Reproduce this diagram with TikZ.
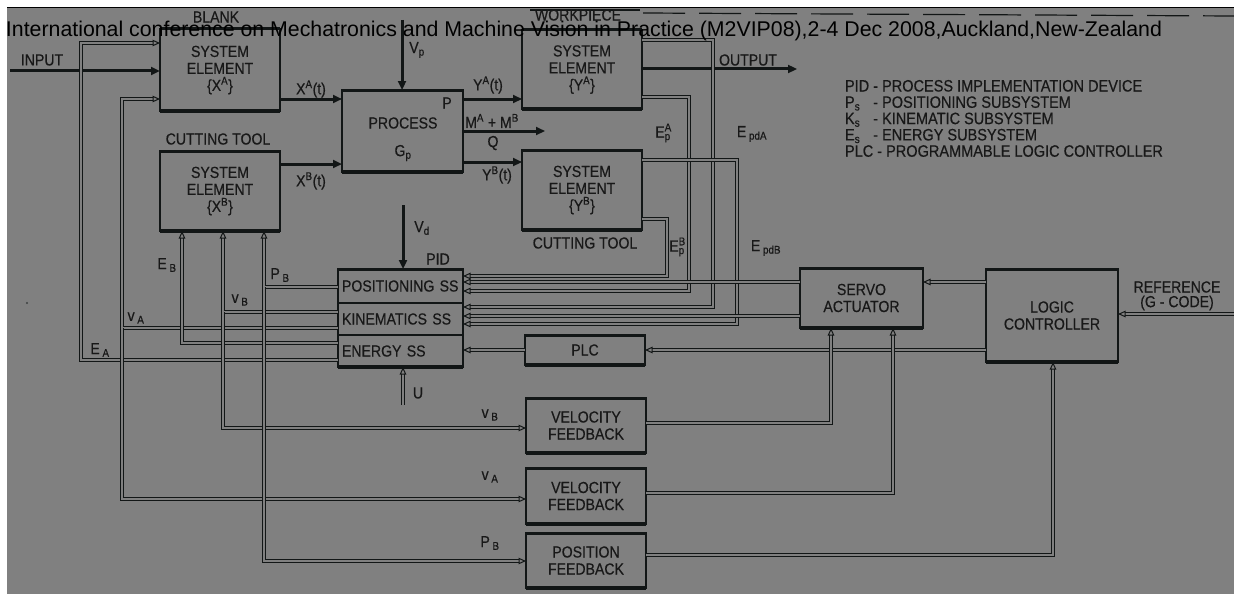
\documentclass[tikz,border=0pt]{standalone}
\usepackage{fontspec}
\usepackage{graphicx}
\setmainfont{Liberation Sans}
\newfontfamily\dfont[FakeStretch=0.88,FakeBold=0.4]{Liberation Sans}
\usetikzlibrary{arrows.meta}
\definecolor{bg}{RGB}{128,128,128}
\definecolor{ink}{RGB}{18,22,22}
\definecolor{txt}{RGB}{24,24,24}
\begin{document}
\begin{tikzpicture}[x=1pt,y=-1pt,
  every node/.style={font=\dfont\fontsize{16}{17}\selectfont, text=txt, inner sep=0pt, outer sep=0pt},
  box/.style={draw=ink, line width=1.4pt, fill=bg, align=center},
  thk/.style={draw=ink, line width=3pt, -{Triangle[length=9pt,width=8pt]}},
  sig/.style={draw=ink, line width=1pt, double=bg, double distance=1.8pt},
  sigA/.style={sig, -{Triangle[open,length=7.5pt,width=6.5pt]}},
  hdr/.style={font=\normalfont\fontsize{18}{20}\selectfont, text=black},
  leg/.style={font=\dfont\fontsize{16.5}{16.3}\selectfont, align=left}
]
\useasboundingbox (0,0) rectangle (1234,594);
\fill[white] (0,0) rectangle (1234,594);
\fill[bg] (7,8) rectangle (1234,594);
\draw[black, line width=1pt] (7,8) -- (1234,8);
% scan remnants at the top
\draw[ink, line width=1.2pt] (530,10) -- (640,10);
\draw[ink, line width=1.2pt, dash pattern=on 42pt off 14pt] (643,13) -- (1234,16);
\fill[ink!60!bg] (27,303) circle (1.2pt);

% boxes
\node[box, minimum width=120pt, minimum height=82pt] (XA) at (220,70) {SYSTEM\\ELEMENT\\\{X\textsuperscript{A}\}};
\node[box, minimum width=120pt, minimum height=80pt] (XB) at (220,191) {SYSTEM\\ELEMENT\\\{X\textsuperscript{B}\}};
\node[box, minimum width=121pt, minimum height=82pt] (P) at (402.5,131) {};
\node[box, minimum width=120pt, minimum height=79pt] (YA) at (582,69.5) {SYSTEM\\ELEMENT\\\{Y\textsuperscript{A}\}};
\node[box, minimum width=120pt, minimum height=80pt] (YB) at (582,190) {SYSTEM\\ELEMENT\\\{Y\textsuperscript{B}\}};
\node[box, minimum width=125pt, minimum height=34pt, text width=117pt, align=left] (PS) at (400.5,286) {POSITIONING SS};
\node[box, minimum width=125pt, minimum height=32pt, text width=117pt, align=left] (KS) at (400.5,319) {KINEMATICS SS};
\node[box, minimum width=125pt, minimum height=32pt, text width=117pt, align=left] (ES) at (400.5,351) {ENERGY SS};
\node[box, minimum width=120pt, minimum height=30pt] (PLC) at (585,350) {PLC};
\node[box, minimum width=123pt, minimum height=60pt] (SA) at (861.5,298) {SERVO\\ACTUATOR};
\node[box, minimum width=132pt, minimum height=93pt] (LC) at (1052,315.5) {LOGIC\\CONTROLLER};
\node[box, minimum width=120pt, minimum height=55pt] (VF1) at (586,425.5) {VELOCITY\\FEEDBACK};
\node[box, minimum width=120pt, minimum height=56pt] (VF2) at (586,496) {VELOCITY\\FEEDBACK};
\node[box, minimum width=120pt, minimum height=55pt] (PF) at (586,560.5) {POSITION\\FEEDBACK};
\foreach \n in {XA,XB,P,YA,YB,PLC,SA,LC,VF1,VF2,PF}{
  \draw[ink, line width=3pt] (\n.north west) -- (\n.north east);
  \draw[ink, line width=4pt] (\n.south west) -- (\n.south east);
}
\draw[ink, line width=3pt] (PS.north west) -- (PS.north east);
\draw[ink, line width=4pt] (ES.south west) -- (ES.south east);

% coordinates
\coordinate (inS) at (10,71);
\coordinate (y99) at (0,99);
\coordinate (y164) at (0,164);
\coordinate (y162) at (0,162);
\coordinate (mEnd) at (545,131);
\coordinate (outE) at (797,69);
\coordinate (vpS) at (402,20);
\coordinate (vdS) at (403,205);
\coordinate (uS) at (403,405);
\coordinate (refS) at (1234,314);
\coordinate (jEA) at (81,360);
\coordinate (cEA) at (81,43);
\coordinate (jvA) at (122,328);
\coordinate (cvA) at (122,99);
\coordinate (bvA) at (122,499);
\coordinate (jEB) at (182,343);
\coordinate (jvB) at (223,312);
\coordinate (bvB) at (223,428);
\coordinate (jPB) at (264,287);
\coordinate (bPB) at (264,561);
\coordinate (aEdA) at (713,40);  \coordinate (bEdA) at (713,307);
\coordinate (aEpA) at (689,97);  \coordinate (bEpA) at (689,291);
\coordinate (aEdB) at (737,160); \coordinate (bEdB) at (737,324);
\coordinate (aEpB) at (667,219); \coordinate (bEpB) at (667,276);
\coordinate (ys1) at (0,282);
\coordinate (ys2) at (0,316);
\coordinate (yplc) at (0,350);
\coordinate (cVF1) at (831,423);
\coordinate (cVF2) at (893,493);
\coordinate (cPF) at (1053,555);

% thick signal arrows
\draw[thk] (inS) -- (XA.west |- inS);
\draw[thk] (XA.east |- y99) -- (P.west |- y99);
\draw[thk] (XB.east |- y164) -- (P.west |- y164);
\draw[thk] (P.east |- y99) -- (YA.west |- y99);
\draw[thk] (P.east |- y162) -- (YB.west |- y162);
\draw[thk] (P.east |- mEnd) -- (mEnd);
\draw[thk] (YA.east |- outE) -- (outE);
\draw[thk] (vpS) -- (P.north -| vpS);
\draw[thk] (vdS) -- (PS.north -| vdS);

% double signal lines
\draw[sigA] (ES.west |- jEA) -- (jEA) -- (cEA) -- (XA.west |- cEA);
\draw[sigA] (KS.west |- jvA) -- (jvA) -- (cvA) -- (XA.west |- cvA);
\draw[sigA] (jvA) -- (bvA) -- (VF2.west |- bvA);
\draw[sigA] (ES.west |- jEB) -- (jEB) -- (XB.south -| jEB);
\draw[sigA] (KS.west |- jvB) -- (jvB) -- (XB.south -| jvB);
\draw[sigA] (jvB) -- (bvB) -- (VF1.west |- bvB);
\draw[sigA] (PS.west |- jPB) -- (jPB) -- (XB.south -| jPB);
\draw[sigA] (jPB) -- (bPB) -- (PF.west |- bPB);
\draw[sigA] (YA.east |- aEdA) -- (aEdA) -- (bEdA) -- (KS.east |- bEdA);
\draw[sigA] (YA.east |- aEpA) -- (aEpA) -- (bEpA) -- (PS.east |- bEpA);
\draw[sigA] (YB.east |- aEdB) -- (aEdB) -- (bEdB) -- (KS.east |- bEdB);
\draw[sigA] (YB.east |- aEpB) -- (aEpB) -- (bEpB) -- (PS.east |- bEpB);
\draw[sigA] (SA.west |- ys1) -- (PS.east |- ys1);
\draw[sigA] (SA.west |- ys2) -- (KS.east |- ys2);
\draw[sigA] (PLC.west |- yplc) -- (ES.east |- yplc);
\draw[sigA] (LC.west |- yplc) -- (PLC.east |- yplc);
\draw[sigA] (LC.west |- ys1) -- (SA.east |- ys1);
\draw[sigA] (refS) -- (LC.east |- refS);
\draw[sigA] (VF1.east |- cVF1) -- (cVF1) -- (SA.south -| cVF1);
\draw[sigA] (VF2.east |- cVF2) -- (cVF2) -- (SA.south -| cVF2);
\draw[sigA] (PF.east |- cPF) -- (cPF) -- (LC.south -| cPF);
\draw[sigA] (uS) -- (ES.south -| uS);

% labels
\node (lblank) at (216,17) {BLANK};
\node (lin) at (42,60) {INPUT};
\node (lct1) at (218,139) {CUTTING TOOL};
\node (lxa) at (311,89) {X\textsuperscript{A}(t)};
\node (lxb) at (311,181) {X\textsuperscript{B}(t)};
\node (lvp) at (417,50) {V\textsubscript{p}};
\node (lproc) at (403,123) {PROCESS};
\node (lgp) at (403,153) {G\textsubscript{p}};
\node (lp) at (447,103) {P};
\node (lya) at (488,85) {Y\textsuperscript{A}(t)};
\node (lyb) at (497,175) {Y\textsuperscript{B}(t)};
\node (lm) at (492,121) {M\textsuperscript{A} + M\textsuperscript{B}};
\node (lq) at (493,143) {Q};
\node (lwp) at (578,15) {WORKPIECE};
\node (lct2) at (585,243) {CUTTING TOOL};
\node (lout) at (748,60) {OUTPUT};
\node (lepA) at (663,133) {E\rlap{\textsuperscript{A}}\textsubscript{p}};
\node (ledA) at (752,134) {E\,\textsubscript{pdA}};
\node (lepB) at (677,247) {E\rlap{\textsuperscript{B}}\textsubscript{p}};
\node (ledB) at (766,248) {E\,\textsubscript{pdB}};
\node (leb) at (167,265) {E\,\textsubscript{B}};
\node (lpb) at (280,275) {P\,\textsubscript{B}};
\node (lvb) at (240,300) {v\,\textsubscript{B}};
\node (lva) at (136,318) {v\,\textsubscript{A}};
\node (lea) at (100,350) {E\,\textsubscript{A}};
\node (lvd) at (422,228) {V\textsubscript{d}};
\node (lpid) at (438,259) {PID};
\node (lu) at (418,393) {U};
\node (lvb2) at (490,415) {v\,\textsubscript{B}};
\node (lva2) at (490,477) {v\,\textsubscript{A}};
\node (lpb2) at (490,543) {P\,\textsubscript{B}};
\node (lref) at (1177,287) {REFERENCE};
\node (lgc) at (1177,303) {(G - CODE)};
\node[leg, anchor=north west] (legend) at (845,80) {PID - PROCESS IMPLEMENTATION DEVICE\\
\rlap{P\textsubscript{s}}\phantom{PID} - POSITIONING SUBSYSTEM\\
\rlap{K\textsubscript{s}}\phantom{PID} - KINEMATIC SUBSYSTEM\\
\rlap{E\textsubscript{s}}\phantom{PID} - ENERGY SUBSYSTEM\\
PLC - PROGRAMMABLE LOGIC CONTROLLER};

% header
\node[hdr, anchor=base west] (hdr) at (6,37) {\resizebox{1156pt}{!}{International conference on Mechatronics and Machine Vision in Practice (M2VIP08),2-4 Dec 2008,Auckland,New-Zealand}};
\end{tikzpicture}
\end{document}
